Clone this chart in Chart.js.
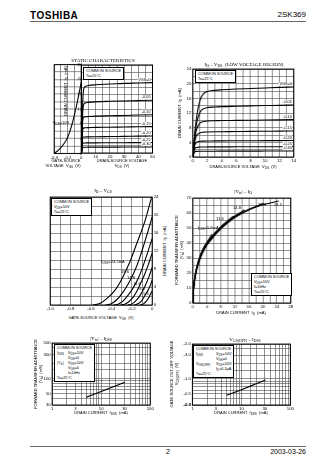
<!DOCTYPE html>
<html lang="en">
<head>
<meta charset="UTF-8">
<title>2SK369</title>
<script src="https://cdn.jsdelivr.net/npm/chart.js@4.4.0/dist/chart.umd.min.js"></script>
<style>
  html, body { margin: 0; padding: 0; background: #fff; }
  body { width: 336px; height: 475px; position: relative; overflow: hidden;
         font-family: "Liberation Sans Narrow", "Liberation Sans", Arial, sans-serif; color: #000; }
  .t { position: absolute; white-space: nowrap; line-height: 1; font-size: 4px; }
  .ttl { font-family: "Liberation Serif", serif; font-size: 5px; }
  .box { position: absolute; background: #fff; border: 0.6px solid #000; font-size: 3.8px;
         line-height: 5px; padding: 0.5px 2px; white-space: nowrap; }
  .box i { font-style: normal; display: inline-block; width: 11px; }
  .wrap { position: absolute; }
  sub { font-size: 75%; vertical-align: -0.3em; line-height: 0; }
</style>
</head>
<body>
<div class="t" style="left:30px;top:10px;font:bold 10px 'Liberation Sans',Arial;letter-spacing:0.5px">TOSHIBA</div>
<div class="t" style="right:30px;top:11px;font-size:8px">2SK369</div>
<div style="position:absolute;left:30px;top:21px;width:276px;height:1px;background:#666"></div>
<div style="position:absolute;left:30px;top:446px;width:276px;height:1px;background:#666"></div>
<div class="t" style="left:166px;top:448px;font-size:7px">2</div>
<div class="t" style="right:30px;top:448px;font-size:7px">2003-03-26</div>

<script>
// ---- data ----
// static characteristics: transfer part (VDS = 10 V)
const transferVgs = [-0.4, -0.35, -0.3, -0.25, -0.2, -0.15, -0.1, -0.05, 0];
const transferId = [0.1, 0.7, 1.6, 2.8, 4.4, 7.0, 10.5, 14.6, 19.2];
// static characteristics: output part
const gateSteps = ['VGS=0', '-0.05', '-0.10', '-0.15', '-0.20', '-0.25', '-0.30'];
const staticVds = [0, 1, 2, 3, 5, 10, 20, 30, 40, 50];
const staticId = [
  [0, 15.0, 17.9, 18.2, 18.4, 18.6, 18.8, 19.0, 19.1, 19.2],
  [0, 12.0, 13.5, 13.7, 13.8, 13.95, 14.1, 14.2, 14.3, 14.4],
  [0, 9.3, 9.85, 9.9, 9.95, 10.05, 10.15, 10.25, 10.35, 10.45],
  [0, 6.6, 6.85, 6.9, 6.92, 7.0, 7.05, 7.1, 7.15, 7.2],
  [0, 4.3, 4.38, 4.4, 4.42, 4.45, 4.5, 4.55, 4.6, 4.65],
  [0, 2.7, 2.75, 2.76, 2.77, 2.78, 2.8, 2.82, 2.84, 2.86],
  [0, 1.55, 1.58, 1.59, 1.6, 1.61, 1.62, 1.63, 1.64, 1.65]
];
// ID - VDS low voltage region
const lowVds = [0, 0.25, 0.5, 1, 1.5, 2, 3, 4, 6, 8, 10, 12, 14];
const lowId = [
  [0, 6.0, 10.5, 15.5, 17.3, 17.9, 18.2, 18.35, 18.55, 18.7, 18.85, 19.0, 19.1],
  [0, 5.5, 9.0, 12.2, 13.2, 13.5, 13.65, 13.75, 13.85, 13.95, 14.05, 14.1, 14.2],
  [0, 4.8, 7.4, 9.3, 9.7, 9.85, 9.9, 9.95, 10.0, 10.05, 10.1, 10.15, 10.2],
  [0, 4.0, 5.8, 6.6, 6.8, 6.85, 6.9, 6.92, 6.95, 7.0, 7.03, 7.07, 7.1],
  [0, 3.1, 4.0, 4.3, 4.35, 4.38, 4.4, 4.42, 4.44, 4.46, 4.47, 4.49, 4.5],
  [0, 2.2, 2.6, 2.72, 2.75, 2.76, 2.77, 2.78, 2.79, 2.8, 2.81, 2.82, 2.83],
  [0, 1.4, 1.55, 1.58, 1.59, 1.6, 1.6, 1.61, 1.62, 1.62, 1.63, 1.64, 1.65]
];
// ID - VGS, one curve per IDSS class
const idssClasses = ['24.5', '19.6', '14.8', '11.6', '8.4', '5.6', '3.2'];
const vgsCurves = [
  [-0.58, -0.51, -0.44, -0.36, -0.29, -0.22, -0.15, -0.07, 0],
  [-0.46, -0.40, -0.345, -0.29, -0.23, -0.17, -0.115, -0.06, 0],
  [-0.38, -0.33, -0.285, -0.24, -0.19, -0.14, -0.095, -0.05, 0],
  [-0.31, -0.27, -0.23, -0.19, -0.155, -0.12, -0.08, -0.04, 0],
  [-0.24, -0.21, -0.18, -0.15, -0.12, -0.09, -0.06, -0.03, 0],
  [-0.18, -0.16, -0.135, -0.11, -0.09, -0.07, -0.045, -0.02, 0],
  [-0.12, -0.09, -0.06, -0.03, 0]
];
const idCurves = [
  [0, 0.38, 1.53, 3.44, 6.13, 9.57, 13.78, 18.76, 24.5],
  [0, 0.31, 1.23, 2.76, 4.9, 7.66, 11.03, 15.01, 19.6],
  [0, 0.23, 0.93, 2.08, 3.7, 5.78, 8.33, 11.33, 14.8],
  [0, 0.18, 0.73, 1.63, 2.9, 4.53, 6.53, 8.88, 11.6],
  [0, 0.13, 0.53, 1.18, 2.1, 3.28, 4.73, 6.43, 8.4],
  [0, 0.09, 0.35, 0.79, 1.4, 2.19, 3.15, 4.29, 5.6],
  [0, 0.2, 0.8, 1.8, 3.2]
];
// |Yfs| - ID
const yfsIdss = ['24.5', '20.3', '14.8', '11.6', '5.6'];
const yfsId = [
  [0, 0.2, 0.6, 1.2, 2, 3, 4, 6, 8, 10, 12, 16, 20, 24.5],
  [0, 0.2, 0.6, 1.2, 2, 3, 4, 6, 8, 10, 12, 16, 20.3],
  [0, 0.2, 0.6, 1.2, 2, 3, 4, 6, 8, 10, 12, 14.8],
  [0, 0.2, 0.6, 1.2, 2, 3, 4, 6, 8, 10, 11.6],
  [0, 0.2, 0.6, 1.2, 2, 3, 4, 5.6]
];
const yfsVal = [
  [0, 8.5, 16, 23, 29, 34.5, 38.5, 44.5, 49.5, 53.5, 57, 62, 65.5, 68],
  [0, 8.8, 16.5, 23.5, 29.5, 35, 39, 45, 50, 54, 57.5, 62.5, 66.5],
  [0, 9, 17, 24, 30, 35.5, 39.5, 45.5, 50.5, 54.5, 58, 62],
  [0, 9.5, 17.5, 24.5, 30.5, 36, 40, 46, 51, 55, 58],
  [0, 10, 18, 25, 31, 36.5, 40.5, 46]
];
// |Yfs| - IDSS and VGS(OFF) - IDSS
const idssA = [5, 10, 20, 30];
const yfsA = [43, 55.5, 72, 84];
const idssB = [5, 10, 20, 31];
const vgsOff = [-0.47, -0.61, -0.80, -0.95];

// ---- helpers ----
const FONT = '"Liberation Sans Narrow", "Liberation Sans", sans-serif';
const GRID = '#4a4a4a';

const frame = {
  id: 'frame',
  afterDraw(chart) {
    const a = chart.chartArea, c = chart.ctx;
    c.save();
    c.strokeStyle = '#000';
    c.lineWidth = 1;
    c.strokeRect(a.left, a.top, a.right - a.left, a.bottom - a.top);
    c.restore();
  }
};
// small value labels at the right end of each curve
const endLabels = {
  id: 'endLabels',
  afterDatasetsDraw(chart, args, opts) {
    if (!opts.show) return;
    const c = chart.ctx, a = chart.chartArea;
    c.save();
    c.font = '3.8px ' + FONT;
    c.textAlign = 'right';
    c.textBaseline = 'bottom';
    chart.data.datasets.forEach((ds, i) => {
      const pts = chart.getDatasetMeta(i).data;
      const y = pts[pts.length - 1].y - 1;
      const w = c.measureText(ds.label).width;
      c.fillStyle = '#fff';
      c.fillRect(a.right - 2.5 - w, y - 4, w + 1, 4);
      c.fillStyle = '#000';
      c.fillText(ds.label, a.right - 2, y);
    });
    c.restore();
  }
};
Chart.register(frame, endLabels);

function axis(o) {
  return {
    type: o.type || 'linear',
    position: o.pos,
    min: o.min,
    max: o.max,
    grid: { color: GRID, lineWidth: 0.6, drawTicks: false },
    border: { display: false },
    ticks: {
      display: o.show !== false,
      stepSize: o.step,
      autoSkip: false,
      maxRotation: 0,
      padding: o.pad === undefined ? 1.5 : o.pad,
      mirror: !!o.mirror,
      font: { family: FONT, size: 4.3 },
      color: '#000',
      callback: o.fmt
    }
  };
}

function series(xs, ys, label) {
  return {
    label: label || '',
    data: xs.map((x, i) => ({ x: x, y: ys[i] })),
    borderColor: '#000',
    borderWidth: 1.1,
    pointRadius: 0,
    cubicInterpolationMode: 'monotone'
  };
}

function every(n, fmt) {
  return v => (Math.abs(Math.round(v * 100)) % Math.round(n * 100) === 0 ? fmt(v) : '');
}
function only(list, fmt) {
  return v => (list.some(t => Math.abs(v - t) < t * 1e-6) ? fmt(v) : '');
}

// box = wanted plot area on the page; the canvas is shifted so it lands there
function makeChart(box, datasets, x, y, endOpts) {
  const wrap = document.createElement('div');
  wrap.className = 'wrap';
  Object.assign(wrap.style, { left: (box.x - 12) + 'px', top: (box.y - 4) + 'px',
    width: (box.w + 16) + 'px', height: (box.h + 14) + 'px' });
  const cv = document.createElement('canvas');
  wrap.appendChild(cv);
  document.body.appendChild(wrap);
  const chart = new Chart(cv, {
    type: 'line',
    data: { datasets: datasets },
    options: {
      responsive: true,
      maintainAspectRatio: false,
      animation: false,
      events: [],
      layout: { padding: 1 },
      plugins: { legend: { display: false }, tooltip: { enabled: false }, endLabels: endOpts || {} },
      scales: { x: x, y: y }
    }
  });
  for (let k = 0; k < 3; k++) {
    const a = chart.chartArea;
    const l = a.left, t = a.top, r = chart.width - a.right, b = chart.height - a.bottom;
    Object.assign(wrap.style, { left: (box.x - l) + 'px', top: (box.y - t) + 'px',
      width: (box.w + l + r) + 'px', height: (box.h + t + b) + 'px' });
    chart.resize();
  }
  return chart;
}

function put(x, y, html, cls, rot) {
  const d = document.createElement('div');
  d.className = 't ' + (cls || '');
  d.innerHTML = html;
  d.style.left = x + 'px';
  d.style.top = y + 'px';
  d.style.transform = 'translate(-50%,-50%)' + (rot ? ' rotate(-90deg)' : '');
  document.body.appendChild(d);
}
function note(x, y, html) {
  const d = document.createElement('div');
  d.className = 'box';
  d.innerHTML = html;
  d.style.left = x + 'px';
  d.style.top = y + 'px';
  document.body.appendChild(d);
}
const num1 = v => (Math.abs(v) < 1e-9 ? '0' : v.toFixed(1));
const int = v => String(Math.round(v));

// ---- 1. static characteristics ----
makeChart({ x: 54, y: 65, w: 27, h: 88 },
  [series(transferVgs, transferId)],
  axis({ min: -0.4, max: 0, step: 0.1, pos: 'bottom', fmt: every(0.2, num1) }),
  axis({ min: 0, max: 24, step: 2, pos: 'right', mirror: true, pad: 1, fmt: every(4, int) }));
makeChart({ x: 81, y: 65, w: 71, h: 88 },
  staticId.map((ys, i) => series(staticVds, ys, gateSteps[i])),
  axis({ min: 0, max: 50, step: 5, pos: 'bottom', fmt: v => (v > 0 && v % 10 === 0 ? int(v) : '') }),
  axis({ min: 0, max: 24, step: 2, pos: 'left', show: false }),
  { show: true });

// ---- 2. ID - VDS low voltage region ----
makeChart({ x: 193, y: 69, w: 100, h: 88 },
  lowId.map((ys, i) => series(lowVds, ys, gateSteps[i])),
  axis({ min: 0, max: 14, step: 1, pos: 'bottom', fmt: every(2, int) }),
  axis({ min: 0, max: 24, step: 2, pos: 'left', fmt: every(4, int) }),
  { show: true });

// ---- 3. ID - VGS ----
makeChart({ x: 50, y: 197, w: 102, h: 108 },
  idCurves.map((ys, i) => series(vgsCurves[i], ys, idssClasses[i])),
  axis({ min: -1, max: 0, step: 0.1, pos: 'bottom', fmt: every(0.2, num1) }),
  axis({ min: 0, max: 24, step: 2, pos: 'right', fmt: every(4, int) }));

// ---- 4. |Yfs| - ID ----
makeChart({ x: 193, y: 198, w: 97, h: 105 },
  yfsVal.map((ys, i) => series(yfsId[i], ys, yfsIdss[i])),
  axis({ min: 0, max: 28, step: 2, pos: 'bottom', fmt: every(4, int) }),
  axis({ min: 0, max: 70, step: 5, pos: 'left', fmt: every(10, int) }));

// ---- 5. |Yfs| - IDSS ----
makeChart({ x: 52, y: 343, w: 98, h: 62 },
  [series(idssA, yfsA)],
  axis({ type: 'logarithmic', min: 1, max: 100, pos: 'bottom', fmt: only([1, 3, 10, 30, 100], int) }),
  axis({ type: 'logarithmic', min: 30, max: 500, pos: 'left', fmt: only([30, 50, 100, 300, 500], int) }));

// ---- 6. VGS(OFF) - IDSS ----
makeChart({ x: 192, y: 344, w: 98, h: 61 },
  [series(idssB, vgsOff.map(Math.abs))],
  axis({ type: 'logarithmic', min: 1, max: 100, pos: 'bottom', fmt: only([1, 3, 10, 30, 100], int) }),
  axis({ type: 'logarithmic', min: 0.3, max: 5, pos: 'left', fmt: only([0.3, 0.5, 1, 3, 5], v => '-' + v.toFixed(1)) }));

// ---- texts ----
put(103, 60, 'STATIC CHARACTERISTICS', 'ttl');
note(83, 67, 'COMMON SOURCE<br>Ta=25°C');
put(66, 91, 'DRAIN CURRENT &nbsp;I<sub>D</sub> &nbsp;(mA)', '', true);
put(61, 123, 'V<sub>DS</sub>=10V');
put(66, 161, 'GATE-SOURCE');
put(63, 166, 'VOLTAGE &nbsp;V<sub>GS</sub> &nbsp;(V)');
put(122, 161, 'DRAIN-SOURCE VOLTAGE');
put(122, 166, 'V<sub>DS</sub> &nbsp;(V)');

put(244, 64, 'I<sub>D</sub> – V<sub>DS</sub> &nbsp;(LOW VOLTAGE REGION)', 'ttl');
note(195, 70, 'COMMON SOURCE<br>Ta=25°C');
put(180, 113, 'DRAIN CURRENT &nbsp;I<sub>D</sub> &nbsp;(mA)', '', true);
put(243, 167, 'DRAIN-SOURCE VOLTAGE &nbsp;V<sub>DS</sub> &nbsp;(V)');

put(103, 190, 'I<sub>D</sub> – V<sub>GS</sub>', 'ttl');
note(51, 198, 'COMMON SOURCE<br>V<sub>DS</sub>=10V<br>Ta=25°C');
put(165, 251, 'DRAIN CURRENT &nbsp;I<sub>D</sub> &nbsp;(mA)', '', true);
put(101, 318, 'GATE-SOURCE VOLTAGE &nbsp;V<sub>GS</sub> &nbsp;(V)');
put(113, 262, 'I<sub>DSS</sub>=24.5mA');
put(125, 272, '19.6');
put(131, 278, '14.8');
put(137, 284, '11.6');
put(142, 289, '8.4');
put(146, 294, '5.6');

put(243, 191, '|Y<sub>fs</sub>| – I<sub>D</sub>', 'ttl');
put(177, 250, 'FORWARD TRANSFER ADMITTANCE', '', true);
put(182, 250, '|Y<sub>fs</sub>| &nbsp;(mS)', '', true);
note(251, 273, 'COMMON SOURCE<br>V<sub>DS</sub>=10V<br>f=1kHz<br>Ta=25°C');
put(241, 313, 'DRAIN CURRENT &nbsp;I<sub>D</sub> &nbsp;(mA)');
put(208, 228, 'I<sub>DSS</sub>=5.6mA');
put(220, 219, '11.6');
put(237, 208, '14.8');
put(262, 205, '20.3');
put(278, 205, '24.5');

put(101, 338, '|Y<sub>fs</sub>| – I<sub>DSS</sub>', 'ttl');
put(36, 374, 'FORWARD TRANSFER ADMITTANCE', '', true);
put(41, 374, '|Y<sub>fs</sub>| &nbsp;(mS)', '', true);
note(54, 344, 'COMMON SOURCE<br><i>I<sub>DSS</sub></i>V<sub>DS</sub>=10V<br><i></i>V<sub>GS</sub>=0<br><i>|Y<sub>fs</sub>|</i>V<sub>DS</sub>=10V<br><i></i>V<sub>GS</sub>=0<br><i></i>f=1kHz<br>Ta=25°C');
put(101, 413, 'DRAIN CURRENT &nbsp;I<sub>DSS</sub> &nbsp;(mA)');

put(245, 339, 'V<sub>GS(OFF)</sub> – I<sub>DSS</sub>', 'ttl');
put(172, 374, 'GATE-SOURCE CUT-OFF VOLTAGE', '', true);
put(177, 374, 'V<sub>GS(OFF)</sub> &nbsp;(V)', '', true);
note(193, 345, 'COMMON SOURCE<br><i style="width:20px">I<sub>DSS</sub></i>V<sub>DS</sub>=10V<br><i style="width:20px"></i>V<sub>GS</sub>=0<br><i style="width:20px">V<sub>GS(OFF)</sub> :</i>V<sub>DS</sub>=10V<br><i style="width:20px"></i>I<sub>D</sub>=0.1μA<br>Ta=25°C');
put(241, 413, 'DRAIN CURRENT &nbsp;I<sub>DSS</sub> &nbsp;(mA)');
</script>
</body>
</html>
